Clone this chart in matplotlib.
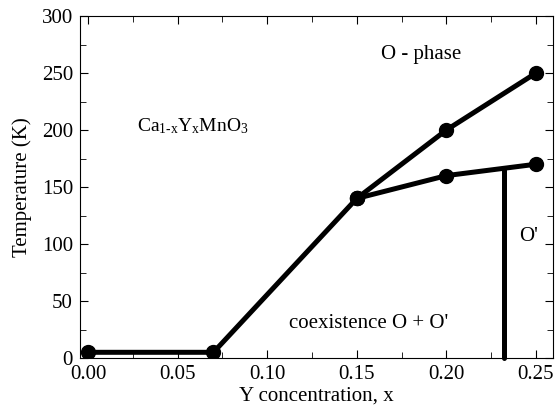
import matplotlib.pyplot as plt
from matplotlib.ticker import MultipleLocator

plt.rcParams['font.family'] = ['Liberation Serif', 'DejaVu Serif']
plt.rcParams['mathtext.fontset'] = 'custom'
plt.rcParams['mathtext.rm'] = 'Liberation Serif'
plt.rcParams['mathtext.it'] = 'Liberation Serif'

# low-x branch
x_low = [0.00, 0.07, 0.15]
t_low = [5, 5, 140]
# upper boundary (O phase)
x_up = [0.15, 0.20, 0.25]
t_up = [140, 200, 250]
# lower boundary (O')
x_o2 = [0.15, 0.20, 0.25]
t_o2 = [140, 160, 170]
# vertical boundary
x_vert = [0.232, 0.232]
t_vert = [0, 165]

fig = plt.figure(figsize=(5.57, 4.16), dpi=100)
ax = fig.add_axes([0.1436, 0.1394, 0.8492, 0.8221])

lw = 3.6
ms = 10
ax.plot(x_low, t_low, color='black', lw=lw, marker='o', ms=ms)
ax.plot(x_up, t_up, color='black', lw=lw, marker='o', ms=ms)
ax.plot(x_o2, t_o2, color='black', lw=lw, marker='o', ms=ms)
ax.plot(x_vert, t_vert, color='black', lw=lw, solid_capstyle='round', clip_on=False)

ax.set_xlim(-0.0045, 0.2595)
ax.set_ylim(0, 300)
ax.xaxis.set_minor_locator(MultipleLocator(0.025))
ax.yaxis.set_major_locator(MultipleLocator(50))
ax.yaxis.set_minor_locator(MultipleLocator(25))
ax.set_xticks([0, 0.05, 0.10, 0.15, 0.20, 0.25])
ax.set_xticklabels(['0.00', '0.05', '0.10', '0.15', '0.20', '0.25'])
ax.tick_params(which='both', direction='in', top=True, right=True, labelsize=15)
ax.tick_params(which='major', length=6, pad=5)
ax.tick_params(which='minor', length=4)

ax.set_xlabel('Y concentration, x', fontsize=15, labelpad=2)
ax.set_ylabel('Temperature (K)', fontsize=15, labelpad=7)

ax.text(0.0275, 203, r'Ca$_{\text{1-x}}$Y$_{\text{x}}$MnO$_{\text{3}}$', fontsize=14,
        va='center', ha='left')
ax.text(0.186, 266, 'O - phase', fontsize=15, va='center', ha='center')
ax.text(0.2456, 107, "O'", fontsize=15, va='center', ha='center')
ax.text(0.1567, 30, "coexistence O + O'", fontsize=15, va='center', ha='center')

fig.savefig('out.png', dpi=100)
